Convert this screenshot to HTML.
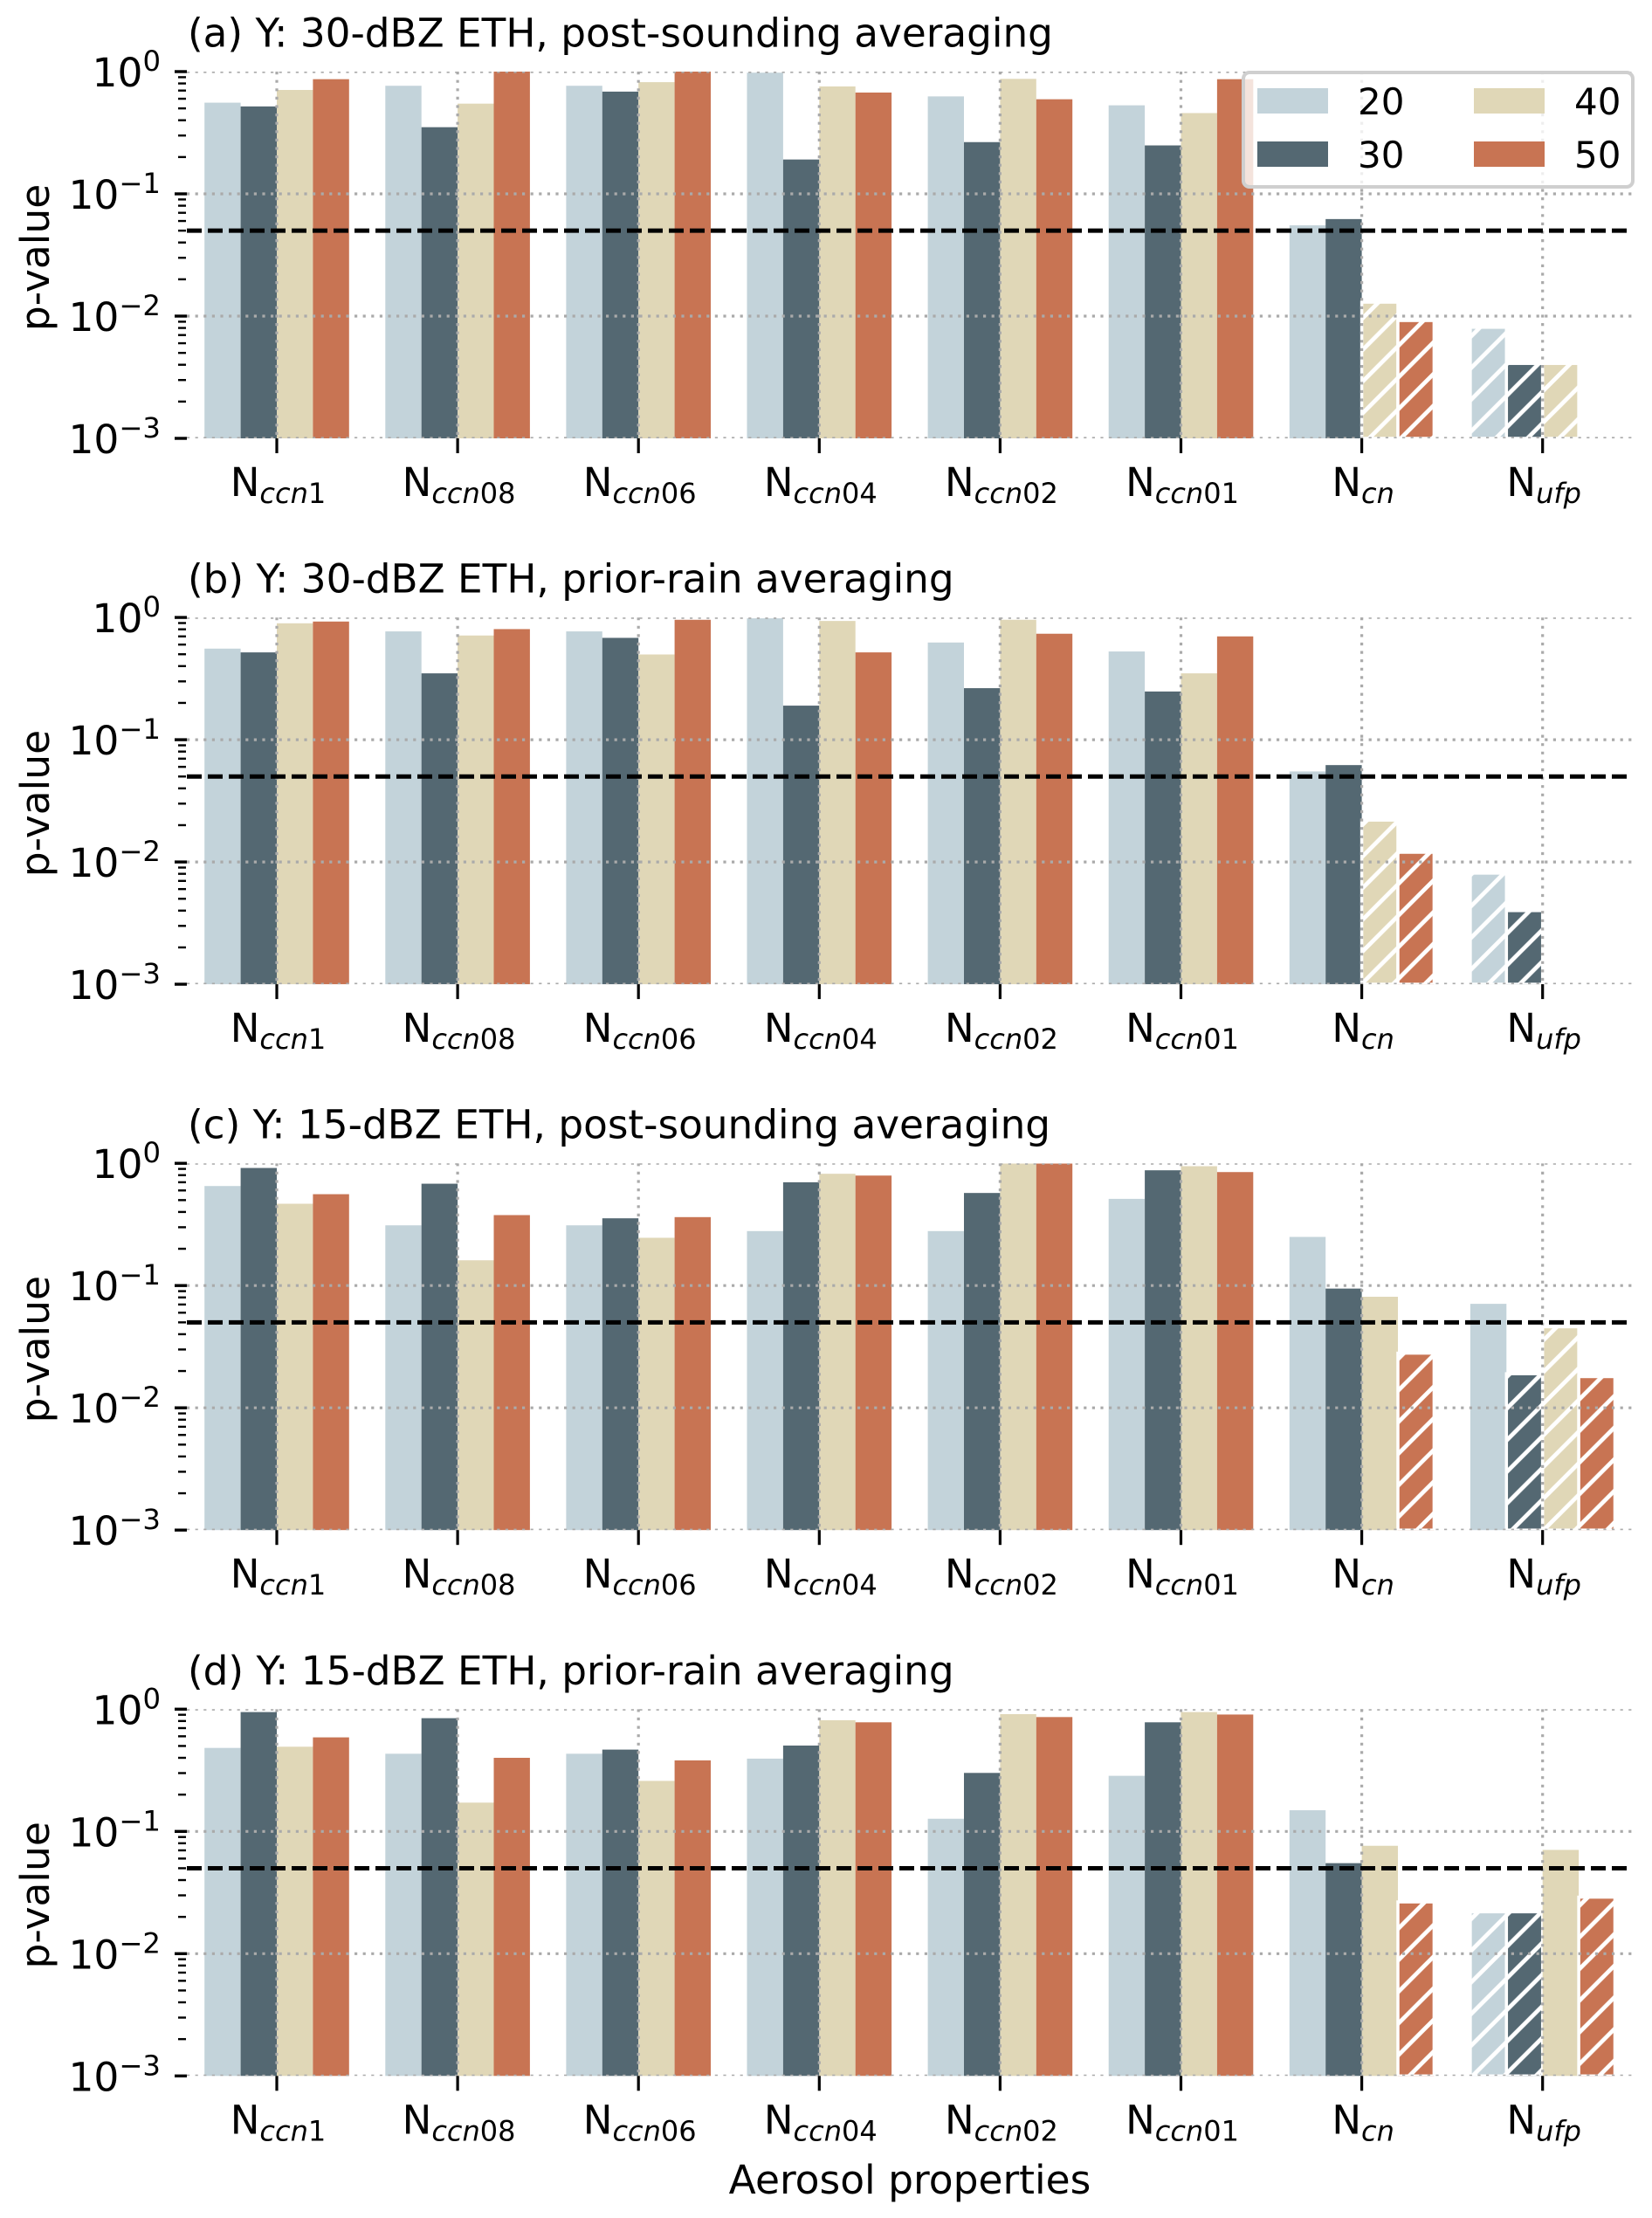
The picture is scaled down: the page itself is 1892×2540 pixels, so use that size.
<!DOCTYPE html>
<html lang="en">
<head>
<meta charset="utf-8">
<title>Aerosol p-values</title>
<style>
html,body{margin:0;padding:0;background:#fff;}
svg{display:block;}
text{font-family:"DejaVu Sans","Liberation Sans",sans-serif;fill:#000;}
</style>
</head>
<body>
<svg id="chart" xmlns="http://www.w3.org/2000/svg" width="1892" height="2540" viewBox="0 0 1892 2540">
  <defs>
    <pattern id="hatch" patternUnits="userSpaceOnUse" width="36.25" height="36.25" patternTransform="translate(3.75 0)">
      <path d="M-9 9L9 -9M0 36.25L36.25 0M27.25 45.25L45.25 27.25" stroke="#fff" stroke-width="4.8" fill="none"/>
    </pattern>
  </defs>
  <rect x="0" y="0" width="1892" height="2540" fill="#fff"/>
</svg>
<script>
// ---- categories and labels ----
const categoryBases = ["N","N","N","N","N","N","N","N"];
const categorySubs = ["ccn","ccn","ccn","ccn","ccn","ccn","cn","ufp"];
const categoryDigits = ["1","08","06","04","02","01","",""];
const seriesNames = ["20","30","40","50"];
const seriesColors = ["#c3d3da","#546872","#e0d7b7","#c87453"];
const yTickExponents = [0,-1,-2,-3];
const minorMultipliers = [2,3,4,5,6,7,8,9];
const significance = 0.05;
const panelTitles = [
  "(a) Y: 30-dBZ ETH, post-sounding averaging",
  "(b) Y: 30-dBZ ETH, prior-rain averaging",
  "(c) Y: 15-dBZ ETH, post-sounding averaging",
  "(d) Y: 15-dBZ ETH, prior-rain averaging"
];

// ---- panel (a) ----
const a20 = [0.557,0.766,0.766,0.98,0.627,0.53,0.0553,0.0081];
const a30 = [0.519,0.351,0.686,0.191,0.265,0.249,0.0622,0.0041];
const a40 = [0.708,0.547,0.82,0.756,0.872,0.458,0.013,0.0041];
const a50 = [0.867,1.0,1.0,0.674,0.594,0.867,0.0092,null];
// ---- panel (b) ----
const b20 = [0.556,0.769,0.769,0.984,0.624,0.527,0.055,0.0081];
const b30 = [0.518,0.349,0.681,0.19,0.264,0.248,0.062,0.004];
const b40 = [0.896,0.712,0.498,0.936,0.957,0.349,0.022,null];
const b50 = [0.926,0.803,0.957,0.518,0.736,0.7,0.012,null];
// ---- panel (c) ----
const c20 = [0.652,0.311,0.311,0.279,0.279,0.512,0.25,0.0709];
const c30 = [0.916,0.681,0.355,0.7,0.572,0.877,0.0945,0.019];
const c40 = [0.467,0.161,0.246,0.821,0.995,0.947,0.081,0.046];
const c50 = [0.559,0.377,0.363,0.794,0.995,0.848,0.028,0.018];
// ---- panel (d) ----
const d20 = [0.482,0.432,0.432,0.394,0.127,0.285,0.149,0.022];
const d30 = [0.947,0.844,0.467,0.504,0.301,0.781,0.055,0.022];
const d40 = [0.493,0.172,0.259,0.812,0.911,0.947,0.0763,0.0706];
const d50 = [0.588,0.4,0.381,0.781,0.862,0.904,0.0265,0.029];

const panelSeries = [[a20,a30,a40,a50],[b20,b30,b40,b50],[c20,c30,c40,c50],[d20,d30,d40,d50]];

// ---- layout ----
const NS = "http://www.w3.org/2000/svg";
const svg = document.getElementById("chart");
const plotLeft = 214, plotRight = 1870, plotHeight = 420, firstTop = 82, panelStep = 625.1;
const firstTickX = 317, tickStep = 207.1, barWidth = 41.4;
const yMinExp = -3, yMaxExp = 0;
const fontSize = 45.5, subSize = 32.3;

function panelTop(p){ return firstTop + p * panelStep; }
function xScale(i){ return firstTickX + i * tickStep; }
function yScale(v, p){
  return panelTop(p) + (yMaxExp - Math.log10(v)) / (yMaxExp - yMinExp) * plotHeight;
}
function make(tag, attrs, parent){
  const e = document.createElementNS(NS, tag);
  for (const k in attrs) e.setAttribute(k, attrs[k]);
  parent.appendChild(e);
  return e;
}

function drawPanel(p){
  const top = panelTop(p), bottom = top + plotHeight;
  const g = make("g", {}, svg);
  
  

  const clip = make("clipPath", {id: "clip" + p}, g);
  make("rect", {x: plotLeft, y: top, width: plotRight - plotLeft, height: plotHeight}, clip);

  // bars
  seriesNames.forEach(function(name, s){
    panelSeries[p][s].forEach(function(v, i){
      if (v === null) return;
      const x = xScale(i) + (s - 2) * barWidth;
      const y = yScale(v, p);
      const h = bottom - y;
      const bar = make("rect", {x: x, y: y, width: barWidth, height: h, fill: seriesColors[s]}, g);
      
      
      if (v < significance) {
        const hatch = make("rect", {x: x, y: y, width: barWidth, height: h, fill: "url(#hatch)", stroke: "#fff", "stroke-width": 3.5, "clip-path": "url(#clip" + p + ")"}, g);
        
        
      }
    });
  });

  // grid
  const gridGroup = make("g", {"clip-path": "url(#clip" + p + ")"}, g);
  
  
  yTickExponents.forEach(function(ex){
    const y = yScale(Math.pow(10, ex), p);
    const gl = make("line", {x1: plotLeft, x2: plotRight, y1: y, y2: y, stroke: "#aaa", "stroke-width": 3.2, "stroke-dasharray": "3.2 6.4"}, gridGroup);
    
    
  });
  categorySubs.forEach(function(c, i){
    const x = xScale(i);
    const gl = make("line", {x1: x, x2: x, y1: top, y2: bottom, stroke: "#aaa", "stroke-width": 3.2, "stroke-dasharray": "3.2 6.4"}, gridGroup);
    
    
  });

  // threshold
  const ty = yScale(significance, p);
  const th = make("line", {x1: plotLeft, x2: 1865, y1: ty, y2: ty, stroke: "#000", "stroke-width": 5, "stroke-dasharray": "17 7"}, g);
  
  

  // y ticks
  yTickExponents.forEach(function(ex){
    const y = yScale(Math.pow(10, ex), p);
    const tick = make("line", {x1: plotLeft - 14, x2: plotLeft, y1: y, y2: y, stroke: "#000", "stroke-width": 3.4}, g);
    
    
    const label = make("text", {x: 184, y: y + 17, "text-anchor": "end", "font-size": fontSize}, g);
    
    
    const base = make("tspan", {}, label);
    base.textContent = "10";
    const sup = make("tspan", {dy: -18, "font-size": subSize}, label);
    sup.textContent = (ex < 0 ? "\u2212" + (-ex) : String(ex));
    if (ex > yMinExp) {
      minorMultipliers.forEach(function(m){
        const my = yScale(m * Math.pow(10, ex - 1), p);
        const mt = make("line", {x1: plotLeft - 10, x2: plotLeft - 1, y1: my, y2: my, stroke: "#000", "stroke-width": 2.4}, g);
        
        
      });
    }
  });

  // x ticks and labels
  categorySubs.forEach(function(sub, i){
    const x = xScale(i);
    const tick = make("line", {x1: x, x2: x, y1: bottom, y2: bottom + 17, stroke: "#000", "stroke-width": 3.2}, g);
    
    
    const label = make("text", {x: x + 1.5, y: bottom + 66, "text-anchor": "middle", "font-size": 45}, g);
    
    
    const n = make("tspan", {}, label);
    n.textContent = categoryBases[i];
    const it = make("tspan", {dy: 8, "font-size": 32, "font-style": "italic"}, label);
    it.textContent = sub;
    if (categoryDigits[i]) {
      const dg = make("tspan", {"font-size": 32}, label);
      dg.textContent = categoryDigits[i];
    }
  });

  // title
  const title = make("text", {x: 215, y: top - 28.5, "font-size": 45.3}, g);
  
  
  title.textContent = panelTitles[p];

  // y-axis title
  const cy = top + plotHeight / 2 + 3;
  const yt = make("text", {x: 56, y: cy, "text-anchor": "middle", "font-size": fontSize, transform: "rotate(-90 56 " + cy + ")"}, g);
  
  
  yt.textContent = "p-value";
}

panelTitles.forEach(function(t, p){ drawPanel(p); });

// x-axis title
const xTitle = make("text", {x: 1042, y: 2512, "text-anchor": "middle", "font-size": 45.5}, svg);


xTitle.textContent = "Aerosol properties";

// legend
const legend = make("g", {}, svg);


const legendBox = make("rect", {x: 1424, y: 83, width: 446, height: 131, rx: 7, ry: 7, fill: "#fff", "fill-opacity": 0.8, stroke: "#cfcfcf", "stroke-width": 4}, legend);


const legendCols = [1440, 1688];
const legendRows = [101, 162];
seriesNames.forEach(function(name, s){
  const col = s < 2 ? 0 : 1;
  const row = s % 2;
  const sw = make("rect", {x: legendCols[col], y: legendRows[row], width: 81, height: 29, fill: seriesColors[s]}, legend);
  
  
  const lab = make("text", {x: legendCols[col] + 115, y: legendRows[row] + 30, "font-size": 42}, legend);
  
  
  lab.textContent = name;
});
</script>
</body>
</html>
